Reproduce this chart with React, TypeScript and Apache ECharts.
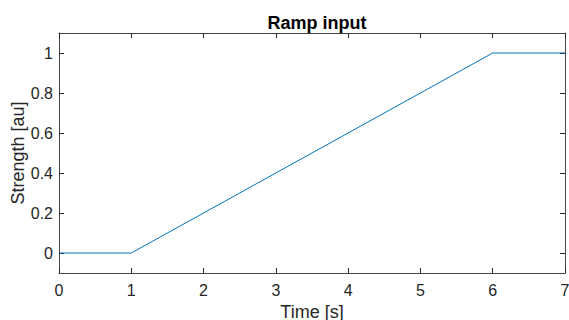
import React, { useEffect, useRef } from "react";
import * as echarts from "echarts";

const timeValues = [0, 1, 6, 7];
const strengthValues = [0, 0, 1, 1];
const xTicks = [0, 1, 2, 3, 4, 5, 6, 7];
const yTicks = [0, 0.2, 0.4, 0.6, 0.8, 1];

const AXIS_COLOR = "#262626";
const LINE_COLOR = "#0072BD";
const FONT = "'Liberation Sans', Arial, Helvetica, sans-serif";

export default function App() {
  const ref = useRef<HTMLDivElement>(null);

  useEffect(() => {
    if (!ref.current) return;
    const chart = echarts.init(ref.current, undefined, { renderer: "svg" });

    const tickStyle = { show: true, inside: true, length: 5, lineStyle: { color: AXIS_COLOR, width: 1 } };
    const axisLineStyle = { show: true, onZero: false, lineStyle: { color: "#444444", width: 1 } };

    chart.setOption({
      animation: false,
      backgroundColor: "#ffffff",
      title: {
        text: "Ramp input",
        left: 312,
        textAlign: "center",
        top: 9,
        textStyle: { fontFamily: FONT, fontSize: 18, fontWeight: "bold", color: "#000" },
      },
      grid: {
        left: 59,
        right: 4,
        top: 33,
        bottom: 47,
        containLabel: false,
        outerBoundsMode: "none",
      },
      xAxis: [
        {
          type: "value",
          min: 0,
          max: 7,
          interval: 1,
          position: "bottom",
          name: "Time [s]",
          nameLocation: "middle",
          nameGap: 30,
          nameMoveOverlap: false,
          nameTextStyle: { fontFamily: FONT, fontSize: 18, color: AXIS_COLOR },
          axisLine: axisLineStyle,
          axisTick: tickStyle,
          splitLine: { show: false },
          axisLabel: {
            fontFamily: FONT,
            fontSize: 16,
            color: AXIS_COLOR,
            margin: 9,
            formatter: (v: number) => (xTicks.includes(v) ? String(v) : ""),
          },
        },
        {
          type: "value",
          min: 0,
          max: 7,
          interval: 1,
          position: "top",
          axisLine: axisLineStyle,
          axisTick: tickStyle,
          axisLabel: { show: false },
          splitLine: { show: false },
        },
      ],
      yAxis: [
        {
          type: "value",
          min: -0.1,
          max: 1.1,
          position: "left",
          name: "Strength [au]",
          nameLocation: "middle",
          nameGap: 32,
          nameMoveOverlap: false,
          nameRotate: 90,
          nameTextStyle: { fontFamily: FONT, fontSize: 18, color: AXIS_COLOR },
          axisLine: axisLineStyle,
          axisTick: { ...tickStyle, customValues: yTicks },
          axisLabel: {
            fontFamily: FONT,
            fontSize: 16,
            color: AXIS_COLOR,
            margin: 6,
            customValues: yTicks,
            formatter: (v: number) => String(Math.round(v * 10) / 10),
          },
          splitLine: { show: false },
        },
        {
          type: "value",
          min: -0.1,
          max: 1.1,
          position: "right",
          axisLine: axisLineStyle,
          axisTick: { ...tickStyle, customValues: yTicks },
          axisLabel: { show: false },
          splitLine: { show: false },
        },
      ],
      series: [
        {
          type: "line",
          xAxisIndex: 0,
          yAxisIndex: 0,
          data: timeValues.map((t, i) => [t, strengthValues[i]]),
          showSymbol: false,
          symbol: "none",
          lineStyle: { color: LINE_COLOR, width: 1 },
        },
      ],
    });

    return () => chart.dispose();
  }, []);

  return <div ref={ref} style={{ width: 569, height: 320, position: "absolute", left: 0, top: 0 }} />;
}
